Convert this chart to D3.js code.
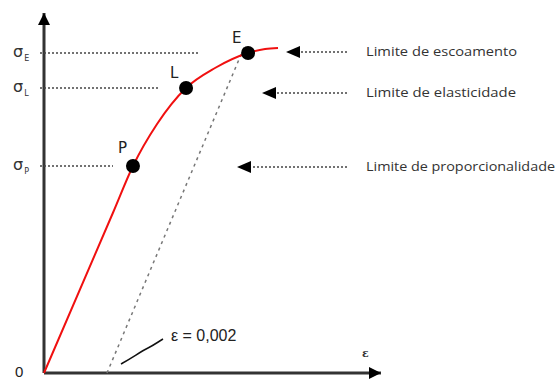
<!DOCTYPE html>
<html>
<head>
<meta charset="utf-8">
<script src="https://cdn.jsdelivr.net/npm/d3@7/dist/d3.min.js"></script>
<style>
  html, body { margin: 0; padding: 0; background: #fff; }
  svg { display: block; }
</style>
</head>
<body>
<svg id="chart" width="558" height="380"></svg>
<script>
// Stress–strain curve (strain ε, stress σ in arbitrary units)
const curveStrain = [0, 0.0022, 0.002825, 0.00359, 0.00451, 0.00543, 0.00648, 0.00702, 0.00743];
const curveStress = [0, 161, 207, 249, 285, 305, 320, 324, 325];

// Characteristic points on the curve
const pointNames  = ["P", "L", "E"];
const pointStrain = [0.002825, 0.00451, 0.00648];
const pointStress = [207, 285, 320];

// Axis labels for the stress levels
const stressSubs = ["P", "L", "E"];

// Offset line (0.2 % strain)
const offsetStrain = 0.002;
const offsetLabel = "ε = 0,002";

// Callout texts, one for each point
const calloutTexts = ["Limite de proporcionalidade", "Limite de elasticidade", "Limite de escoamento"];

const svg = d3.select("#chart");
const x = d3.scaleLinear().domain([0, 0.0107]).range([44, 381]);
const y = d3.scaleLinear().domain([0, 361]).range([373, 12]);

const axisColor = "#333";
const dotColor = "#444";

// arrowhead
const defs = svg.append("defs");
defs.append("marker").attr("id", "head")
  .attr("viewBox", "0 0 10 10").attr("refX", 10).attr("refY", 5)
  .attr("markerWidth", 14).attr("markerHeight", 12).attr("markerUnits", "userSpaceOnUse")
  .attr("orient", "auto")
  .append("path").attr("d", "M0,0 L10,5 L0,10 Z").attr("fill", "#000");

// axes
svg.append("line")
  .attr("x1", x(0)).attr("y1", y(0)).attr("x2", x(0)).attr("y2", y(361) + 1)
  .attr("stroke", axisColor).attr("stroke-width", 3).attr("marker-end", "url(#head)");
svg.append("line")
  .attr("x1", x(0)).attr("y1", y(0)).attr("x2", x(0.0107)).attr("y2", y(0))
  .attr("stroke", axisColor).attr("stroke-width", 3).attr("marker-end", "url(#head)");

svg.append("text").attr("x", 15).attr("y", 377)
  .attr("font-family", "Liberation Sans, Arial, sans-serif").attr("font-size", 15).attr("fill", "#222")
  .text("0");
svg.append("text").attr("x", 362).attr("y", 357)
  .attr("font-family", "DejaVu Serif, serif").attr("font-size", 11).attr("fill", "#333")
  .attr("font-weight", "bold")
  .text("ε");

// horizontal dotted guides from the stress axis
const guideEnds = [113, 160, 200];
pointStress.forEach((s, i) => {
  svg.append("line")
    .attr("x1", 40).attr("x2", guideEnds[i])
    .attr("y1", y(s)).attr("y2", y(s))
    .attr("stroke", dotColor).attr("stroke-width", 1.5).attr("stroke-dasharray", "2,2");
  const t = svg.append("text").attr("x", 13).attr("y", y(s) + 4)
    .attr("font-family", "DejaVu Sans, sans-serif").attr("fill", "#333");
  t.append("tspan").attr("font-size", 16).text("σ");
  t.append("tspan").attr("font-size", 8).attr("dx", 1).attr("dy", 4).text(stressSubs[i]);
});

// offset line
svg.append("line")
  .attr("x1", x(offsetStrain)).attr("y1", y(0))
  .attr("x2", x(pointStrain[2]) - 3).attr("y2", y(pointStress[2]) - 8)
  .attr("stroke", "#777").attr("stroke-width", 1.5).attr("stroke-dasharray", "3,4");

// stress–strain curve
const data = curveStrain.map((e, i) => [e, curveStress[i]]);
svg.append("path").datum(data)
  .attr("d", d3.line().x(d => x(d[0])).y(d => y(d[1])).curve(d3.curveMonotoneX))
  .attr("fill", "none").attr("stroke", "#f01010").attr("stroke-width", 2);

// points and their letters
const labelOffsets = [[-15, -13], [-16, -10], [-16, -10]];
pointStrain.forEach((e, i) => {
  svg.append("circle").attr("cx", x(e)).attr("cy", y(pointStress[i])).attr("r", 7).attr("fill", "#000");
  svg.append("text")
    .attr("x", x(e) + labelOffsets[i][0]).attr("y", y(pointStress[i]) + labelOffsets[i][1])
    .attr("font-family", "DejaVu Sans, sans-serif").attr("font-size", 15).attr("fill", "#222")
    .text(pointNames[i]);
});

// offset label with leader
svg.append("path")
  .attr("d", "M121,364 C135,356 140,352 148,348 C154,345 158,342 163,339")
  .attr("fill", "none").attr("stroke", "#111").attr("stroke-width", 1.5);
svg.append("text").attr("x", 171).attr("y", 341)
  .attr("font-family", "Liberation Sans, Arial, sans-serif").attr("font-size", 16).attr("fill", "#222")
  .text(offsetLabel);

// callouts on the right
const arrowTips = [237, 262, 286];
pointStress.forEach((s, i) => {
  const yy = y(s) - (i === 2 ? 1 : 0) + (i === 1 ? 5 : 0) + (i === 0 ? 1 : 0);
  svg.append("line")
    .attr("x1", 347).attr("x2", arrowTips[i] + 12).attr("y1", yy).attr("y2", yy)
    .attr("stroke", dotColor).attr("stroke-width", 1.5).attr("stroke-dasharray", "2,2");
  svg.append("path")
    .attr("d", `M${arrowTips[i]},${yy} L${arrowTips[i] + 14},${yy - 6} L${arrowTips[i] + 14},${yy + 6} Z`)
    .attr("fill", "#000");
  svg.append("text").attr("x", 366).attr("y", yy + 4)
    .attr("font-family", "Open Sans, sans-serif").attr("font-size", 13).attr("fill", "#333")
    .attr("textLength", [189, 150, 151][i]).attr("lengthAdjust", "spacingAndGlyphs")
    .text(calloutTexts[i]);
});
</script>
</body>
</html>
